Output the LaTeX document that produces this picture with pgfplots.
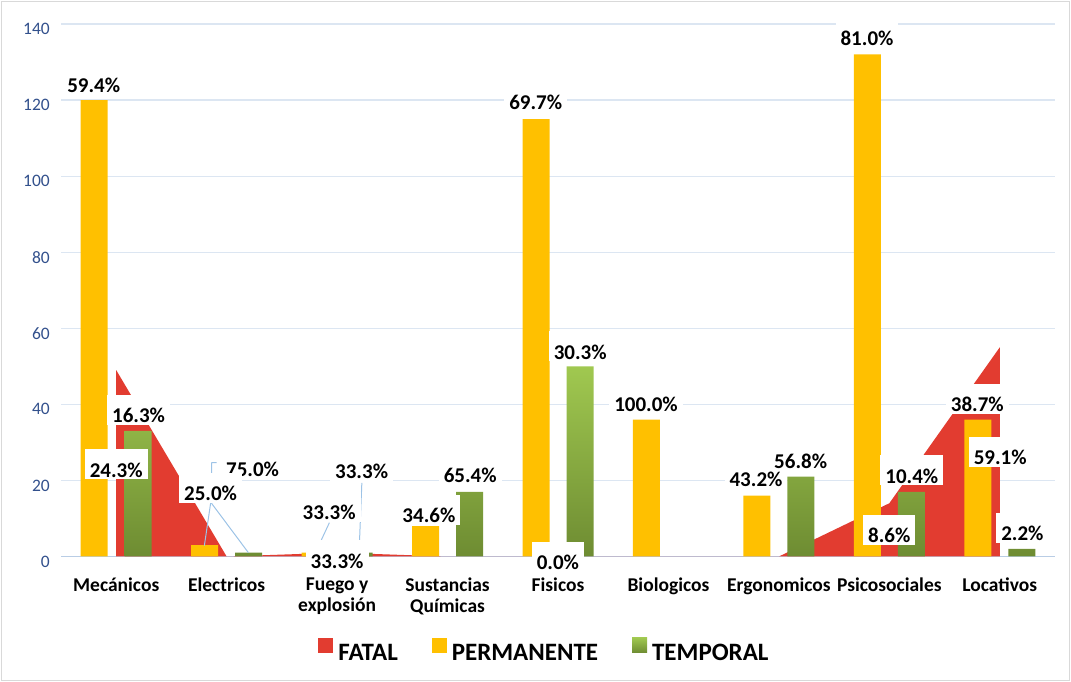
\documentclass[border=0pt]{standalone}
\usepackage{pgfplots}
\pgfplotsset{compat=1.18}
\usepackage{fontspec}
\setmainfont{Carlito}

\definecolor{fatalc}{RGB}{226,60,48}
\definecolor{permc}{RGB}{255,192,0}
\definecolor{temptop}{RGB}{160,200,80}
\definecolor{tempbot}{RGB}{110,140,50}
\definecolor{gridc}{RGB}{220,230,242}
\definecolor{axisc}{RGB}{185,205,229}
\definecolor{tickc}{RGB}{50,80,140}
\definecolor{leadc}{RGB}{157,195,230}
\definecolor{bordc}{RGB}{217,217,217}

% FATAL (area), PERMANENTE, TEMPORAL per category
\pgfplotstableread{
x fatal perm temp
0 49 120 33
1 0 3 1
2 1 1 1
3 0 8 17
4 0 115 50
5 0 36 nan
6 0 16 21
7 14 132 17
8 55 36 2
}\riesgos

\tikzset{lbl/.style={fill=white, anchor=base, inner xsep=5pt, inner ysep=2pt,
  text height=26pt, text depth=0pt, font=\bfseries\fontsize{21}{21}\selectfont}}

\begin{document}
\begin{tikzpicture}
\useasboundingbox (0pt,0pt) rectangle (1071pt,682pt);
\draw[bordc, line width=1pt] (1.5pt,1.5pt) rectangle (1069.5pt,680.5pt);
\begin{axis}[
  at={(61pt,125.5pt)}, anchor=south west,
  scale only axis, width=994pt, height=532.5pt,
  xmin=-0.5, xmax=8.5, ymin=0, ymax=140,
  clip=false,
  axis x line*=bottom, axis y line*=left,
  x axis line style={draw=axisc, line width=1pt},
  y axis line style={draw=none},
  major tick length=0pt,
  ymajorgrids, major grid style={draw=gridc, line width=1.2pt},
  ytick={0,20,...,140},
  yticklabel style={anchor=east, inner sep=0pt, xshift=-11pt, yshift=-5pt,
    text=tickc, font=\fontsize{17.5}{17.5}\selectfont},
  /pgf/number format/assume math mode=true,
  xtick={0,...,8},
  xticklabels={Mecánicos,Electricos,{Fuego y\\explosión},{Sustancias\\Químicas},Fisicos,Biologicos,Ergonomicos,Psicosociales,Locativos},
  xticklabel style={align=center, anchor=north, inner sep=0pt, yshift=-21pt,
    font=\bfseries\fontsize{19.5}{21.5}\selectfont},
  legend columns=3,
  legend style={at={(0.4864,-0.1812)}, anchor=center, draw=none, fill=none,
    font=\bfseries\fontsize{25}{25}\selectfont,
    /tikz/every odd column/.append style={column sep=3pt},
    /tikz/every even column/.append style={column sep=32pt}},
]
\addplot[fill=fatalc, draw=none,
  legend image code/.code={\fill[fatalc] (0pt,0pt) rectangle (15pt,15pt); \path (0pt,-15.4pt);}]
  table[x=x, y=fatal] {\riesgos} \closedcycle;
\addlegendentry{FATAL}
\addplot[ybar, bar width=27pt, bar shift=-22pt, fill=permc, draw=none,
  legend image code/.code={\fill[permc] (0pt,0pt) rectangle (15pt,15pt); \path (0pt,-15.4pt);}]
  table[x=x, y=perm] {\riesgos};
\addlegendentry{PERMANENTE}
\addplot[ybar, bar width=27pt, bar shift=22pt, draw=none, top color=temptop, bottom color=tempbot,
  legend image code/.code={\shade[top color=temptop, bottom color=tempbot] (0pt,0pt) rectangle (15pt,15pt); \path (0pt,-15.4pt);}]
  table[x=x, y=temp] {\riesgos};
\addlegendentry{TEMPORAL}

% leader lines
\draw[leadc, line width=1pt] (axis cs:0.910,24.68) -- (axis cs:0.865,24.68) -- (axis cs:0.856,14.26) -- (axis cs:1.197,1.0);
\draw[leadc, line width=1pt] (axis cs:0.856,14.26) -- (axis cs:0.798,2.84);
\draw[leadc, line width=1pt] (axis cs:2.224,19.34) -- (axis cs:2.199,1.26);
\draw[leadc, line width=1pt] (axis cs:1.930,8.89) -- (axis cs:1.794,0.39);

% data labels
\node[lbl] at (axis cs:-0.204,122.05) {59.4\%};
\node[lbl] at (axis cs:0.202,35.2) {16.3\%};
\node[lbl] at (axis cs:0,20.84) {24.3\%};
\node[lbl] at (axis cs:1.235,21.0) {75.0\%};
\node[lbl] at (axis cs:0.854,14.68) {25.0\%};
\node[lbl] at (axis cs:2.222,20.39) {33.3\%};
\node[lbl] at (axis cs:1.928,9.6) {33.3\%};
\node[lbl] at (axis cs:2.0,-3.03) {33.3\%};
\node[lbl] at (axis cs:3.205,19.42) {65.4\%};
\node[lbl] at (axis cs:2.831,8.82) {34.6\%};
\node[lbl] at (axis cs:3.798,117.5) {69.7\%};
\node[lbl] at (axis cs:4.201,51.9) {30.3\%};
\node[lbl] at (axis cs:3.999,-3.55) {0.0\%};
\node[lbl] at (axis cs:4.797,38.1) {100.0\%};
\node[lbl] at (axis cs:5.793,18.37) {43.2\%};
\node[lbl] at (axis cs:6.197,23.2) {56.8\%};
\node[lbl] at (axis cs:6.798,134.3) {81.0\%};
\node[lbl] at (axis cs:7.204,19.26) {10.4\%};
\node[lbl] at (axis cs:7.0,3.63) {8.6\%};
\node[lbl] at (axis cs:7.797,38.1) {38.7\%};
\node[lbl] at (axis cs:8.004,24.08) {59.1\%};
\node[lbl] at (axis cs:8.205,4.16) {2.2\%};
\end{axis}
\end{tikzpicture}
\end{document}
